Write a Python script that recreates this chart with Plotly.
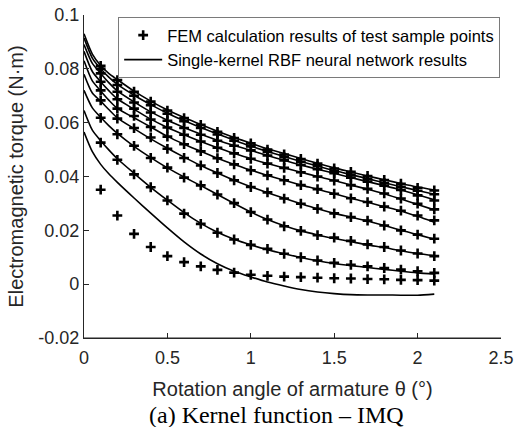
import plotly.graph_objects as go

# ---------------- data ----------------
x_fem = [0.1, 0.2, 0.3, 0.4, 0.5, 0.6, 0.7, 0.8, 0.9, 1.0, 1.1,
         1.2, 1.3, 1.4, 1.5, 1.6, 1.7, 1.8, 1.9, 2.0, 2.1]

fem_1 = [0.0811, 0.0758, 0.0715, 0.0678, 0.0645, 0.0617, 0.0592, 0.0566, 0.0543, 0.0523, 0.0500,
         0.0482, 0.0465, 0.0448, 0.0430, 0.0417, 0.0402, 0.0387, 0.0373, 0.0358, 0.0348]
fem_2 = [0.0800, 0.0740, 0.0700, 0.0665, 0.0633, 0.0605, 0.0580, 0.0556, 0.0533, 0.0512, 0.0491,
         0.0472, 0.0455, 0.0438, 0.0420, 0.0406, 0.0391, 0.0376, 0.0362, 0.0347, 0.0334]
fem_3 = [0.0783, 0.0715, 0.0675, 0.0638, 0.0607, 0.0580, 0.0555, 0.0533, 0.0514, 0.0497, 0.0478,
         0.0460, 0.0443, 0.0427, 0.0412, 0.0396, 0.0381, 0.0366, 0.0350, 0.0330, 0.0311]
fem_4 = [0.0752, 0.0687, 0.0652, 0.0612, 0.0582, 0.0555, 0.0530, 0.0507, 0.0486, 0.0466, 0.0448,
         0.0432, 0.0416, 0.0400, 0.0385, 0.0368, 0.0354, 0.0337, 0.0318, 0.0299, 0.0278]
fem_5 = [0.0720, 0.0652, 0.0625, 0.0584, 0.0548, 0.0520, 0.0494, 0.0468, 0.0445, 0.0423, 0.0404,
         0.0386, 0.0368, 0.0353, 0.0336, 0.0319, 0.0305, 0.0288, 0.0273, 0.0255, 0.0237]
fem_6 = [0.0683, 0.0615, 0.0580, 0.0545, 0.0503, 0.0469, 0.0441, 0.0413, 0.0386, 0.0361, 0.0341,
         0.0318, 0.0299, 0.0280, 0.0263, 0.0249, 0.0236, 0.0218, 0.0200, 0.0184, 0.0169]
fem_7 = [0.0618, 0.0557, 0.0514, 0.0469, 0.0433, 0.0396, 0.0367, 0.0333, 0.0301, 0.0268, 0.0240,
         0.0215, 0.0198, 0.0182, 0.0173, 0.0161, 0.0148, 0.0138, 0.0125, 0.0114, 0.0104]
fem_8 = [0.0526, 0.0462, 0.0408, 0.0360, 0.0311, 0.0262, 0.0224, 0.0191, 0.0166, 0.0146, 0.0131,
         0.0113, 0.0100, 0.0088, 0.0079, 0.0072, 0.0066, 0.0060, 0.0054, 0.0048, 0.0042]
fem_9 = [0.0351, 0.0255, 0.0187, 0.0138, 0.0104, 0.0082, 0.0066, 0.0053, 0.0043, 0.0035, 0.0031,
         0.0028, 0.0026, 0.0024, 0.0022, 0.0021, 0.0019, 0.0018, 0.0016, 0.0015, 0.0013]

x_rbf = [0.0, 0.05, 0.1, 0.15, 0.2, 0.3, 0.4, 0.5, 0.6, 0.7, 0.8, 0.9,
         1.0, 1.1, 1.2, 1.3, 1.4, 1.5, 1.6, 1.7, 1.8, 1.9, 2.0, 2.1]

rbf_1 = [0.0930, 0.0855, 0.0812, 0.0782, 0.0760, 0.0717, 0.0680, 0.0647, 0.0619, 0.0593, 0.0568, 0.0545,
         0.0524, 0.0503, 0.0485, 0.0467, 0.0449, 0.0432, 0.0417, 0.0402, 0.0388, 0.0374, 0.0361, 0.0350]
rbf_2 = [0.0915, 0.0840, 0.0800, 0.0768, 0.0742, 0.0702, 0.0667, 0.0635, 0.0607, 0.0582, 0.0558, 0.0535,
         0.0513, 0.0493, 0.0474, 0.0456, 0.0439, 0.0422, 0.0407, 0.0392, 0.0377, 0.0362, 0.0348, 0.0334]
rbf_3 = [0.0890, 0.0820, 0.0783, 0.0748, 0.0718, 0.0677, 0.0640, 0.0609, 0.0582, 0.0557, 0.0535, 0.0515,
         0.0497, 0.0478, 0.0460, 0.0443, 0.0427, 0.0412, 0.0396, 0.0381, 0.0366, 0.0350, 0.0332, 0.0314]
rbf_4 = [0.0865, 0.0790, 0.0752, 0.0718, 0.0688, 0.0650, 0.0613, 0.0582, 0.0555, 0.0530, 0.0507, 0.0486,
         0.0466, 0.0448, 0.0432, 0.0416, 0.0400, 0.0385, 0.0368, 0.0353, 0.0336, 0.0316, 0.0296, 0.0276]
rbf_5 = [0.0830, 0.0755, 0.0718, 0.0683, 0.0653, 0.0618, 0.0584, 0.0549, 0.0520, 0.0494, 0.0468, 0.0445,
         0.0424, 0.0404, 0.0386, 0.0368, 0.0353, 0.0336, 0.0319, 0.0304, 0.0288, 0.0272, 0.0252, 0.0230]
rbf_6 = [0.0780, 0.0710, 0.0680, 0.0648, 0.0618, 0.0578, 0.0540, 0.0505, 0.0472, 0.0441, 0.0413, 0.0386,
         0.0362, 0.0340, 0.0319, 0.0299, 0.0280, 0.0263, 0.0249, 0.0235, 0.0218, 0.0200, 0.0184, 0.0167]
rbf_7 = [0.0720, 0.0655, 0.0620, 0.0588, 0.0560, 0.0512, 0.0470, 0.0432, 0.0398, 0.0366, 0.0333, 0.0300,
         0.0268, 0.0240, 0.0217, 0.0198, 0.0183, 0.0170, 0.0158, 0.0146, 0.0136, 0.0124, 0.0114, 0.0106]
rbf_8 = [0.0645, 0.0572, 0.0533, 0.0498, 0.0466, 0.0412, 0.0360, 0.0312, 0.0266, 0.0226, 0.0193, 0.0167,
         0.0146, 0.0128, 0.0113, 0.0099, 0.0087, 0.0077, 0.0069, 0.0062, 0.0055, 0.0048, 0.0042, 0.0038]
rbf_9 = [0.0565, 0.0492, 0.0445, 0.0409, 0.0378, 0.0320, 0.0264, 0.0209, 0.0157, 0.0112, 0.0076, 0.0048,
         0.0027, 0.0008, -0.0007, -0.0020, -0.0029, -0.0035, -0.0039, -0.0040, -0.0040, -0.0041, -0.0041, -0.0037]

fem_series = [fem_1, fem_2, fem_3, fem_4, fem_5, fem_6, fem_7, fem_8, fem_9]
rbf_series = [rbf_1, rbf_2, rbf_3, rbf_4, rbf_5, rbf_6, rbf_7, rbf_8, rbf_9]

fem_name = "FEM calculation results of test sample points"
rbf_name = "Single-kernel RBF neural network results"

x_ticks = [0, 0.5, 1, 1.5, 2, 2.5]
x_ticktext = ["0", "0.5", "1", "1.5", "2", "2.5"]
y_ticks = [-0.02, 0, 0.02, 0.04, 0.06, 0.08, 0.1]
y_ticktext = ["-0.02", "0", "0.02", "0.04", "0.06", "0.08", "0.1"]

x_title = "Rotation angle of armature θ (°)"
y_title = "Electromagnetic torque (N·m)"
caption = "(a) Kernel function – IMQ"

# ---------------- figure ----------------
fig = go.Figure()
AX = "#262626"
SANS = "Liberation Sans, Arial, sans-serif"

for i, ys in enumerate(fem_series):
    fig.add_trace(go.Scatter(
        x=x_fem, y=ys, mode="markers", name=fem_name,
        showlegend=(i == 0), legendrank=1,
        marker=dict(symbol="cross-thin", size=7, color="black",
                    line=dict(color="black", width=2.6)),
    ))

for i, ys in enumerate(rbf_series):
    fig.add_trace(go.Scatter(
        x=x_rbf, y=ys, mode="lines", name=rbf_name,
        showlegend=(i == 0), legendrank=2,
        line=dict(color="black", width=1.6, shape="spline", smoothing=0.7),
    ))

fig.update_layout(
    width=519, height=427,
    margin=dict(l=84, r=18, t=15, b=89),
    paper_bgcolor="white", plot_bgcolor="white",
    font=dict(family=SANS, color=AX),
    showlegend=True,
    legend=dict(
        x=0.998, xanchor="right", y=0.994, yanchor="top",
        bgcolor="white", bordercolor="#7a7a7a", borderwidth=1,
        font=dict(family=SANS, size=16.5, color="black"),
        itemwidth=38, tracegroupgap=0,
    ),
    xaxis=dict(
        range=[0, 2.5], tickvals=x_ticks, ticktext=x_ticktext,
        ticks="inside", ticklen=5, tickcolor=AX, tickwidth=1,
        showline=True, linecolor=AX, linewidth=1.2, mirror=False,
        showgrid=False, zeroline=False, automargin=False,
        ticklabelstandoff=3, ticklabeloverflow="allow",
        tickfont=dict(size=18, color=AX),
        title=dict(text=x_title, font=dict(size=20, color=AX), standoff=15),
    ),
    yaxis=dict(
        range=[-0.02, 0.1], tickvals=y_ticks, ticktext=y_ticktext,
        ticks="inside", ticklen=5, tickcolor=AX, tickwidth=1,
        showline=True, linecolor=AX, linewidth=1.2, mirror=False,
        showgrid=False, zeroline=False, automargin=False,
        ticklabeloverflow="allow",
        tickfont=dict(size=18, color=AX),
        title=dict(text=y_title, font=dict(size=20, color=AX), standoff=9),
    ),
    annotations=[dict(
        text=caption, xref="paper", yref="paper",
        x=0.462, y=-0.238, xanchor="center", yanchor="middle",
        showarrow=False,
        font=dict(family="Liberation Serif, Times New Roman, serif", size=24, color="black"),
    )],
)

# bottom axis baseline (drawn as a paper-referenced line along the plot's lower edge)
fig.add_shape(type="line", xref="paper", yref="paper", x0=0, x1=1, y0=0, y1=0,
              line=dict(color=AX, width=1.2), layer="above")

# remove the browser's default 8 px page margin so the figure fills the window
fig.write_html("out.html",
               config={"displayModeBar": False},
               post_script="document.body.style.margin='0';document.body.style.overflow='hidden';")
